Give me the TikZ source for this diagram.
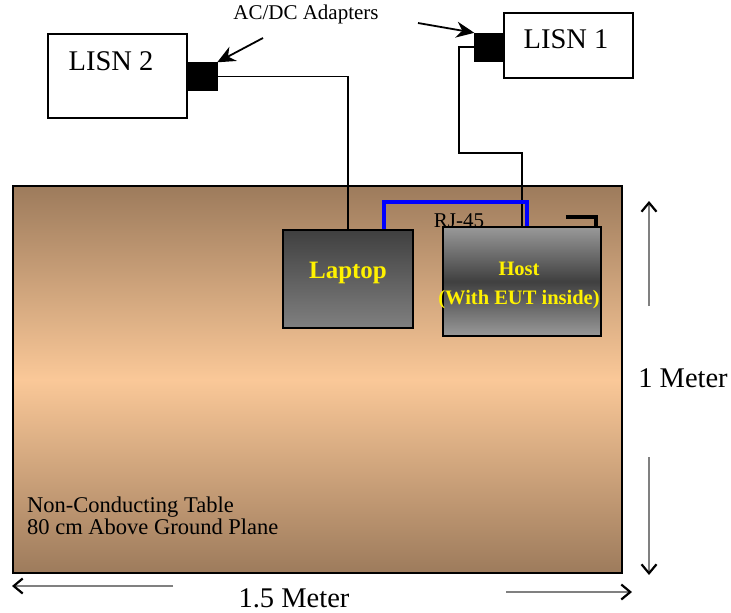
\documentclass[tikz,border=0pt]{standalone}
\usepackage{fontspec}
\setmainfont{Liberation Serif}
\usetikzlibrary{arrows.meta, positioning}
\definecolor{tabletop}{RGB}{157,123,92}
\definecolor{tablemid}{RGB}{250,200,152}
\definecolor{rjblue}{RGB}{0,0,255}
\tikzset{
    lisn/.style={draw, line width=1.3pt, fill=white, inner sep=0pt}, % LISN boxes
    adapter/.style={draw, fill=black, minimum width=30pt, minimum height=28pt, inner sep=0pt}, % black adapter blocks
    tablebox/.style={draw, line width=2pt, top color=tabletop, bottom color=tabletop, middle color=tablemid}, % the table
    wire/.style={draw, line width=1.6pt}, % power cables
    pointer/.style={line width=1.8pt, -{Stealth[length=18pt, width=16pt]}},
    dimarrow/.style={line width=1.4pt, draw=gray, -{Straight Barb[length=9pt, width=15pt, line width=2.2pt, color=black]}},
}
\tikzstyle{bigtext} = [font=\fontsize{28.5}{30}\selectfont]
\tikzstyle{devtext} = [text=yellow, font=\bfseries]
\begin{document}
\begin{tikzpicture}[x=1pt, y=-1pt]
    \useasboundingbox (0,0) rectangle (731,613);

    % table
    \node[tablebox, minimum width=609pt, minimum height=387pt] (table) at (317.5,379.5) {};
    \node[anchor=west, align=left, font=\fontsize{22.5}{22.5}\selectfont, inner sep=0pt] (tabletext) at (27,516)
        {Non-Conducting Table\\80 cm Above Ground Plane};

    % LISNs and adapters
    \node[lisn, minimum width=139pt, minimum height=84pt] (lisn2) at (117.5,76) {};
    \node[bigtext] (lisn2text) at (111,61) {LISN 2};
    \node[adapter] (adapter2) at (202,76.5) {};
    \node[lisn, minimum width=129pt, minimum height=65pt] (lisn1) at (568.5,45.5) {};
    \node[bigtext] (lisn1text) at (566,39) {LISN 1};
    \node[adapter] (adapter1) at (489.5,47) {};

    % devices
    \node[draw, line width=1.5pt, minimum width=130pt, minimum height=98pt,
          top color=black!75, bottom color=black!50] (laptop) at (348,279) {};
    \node[devtext, font=\fontsize{25}{26}\selectfont\bfseries] (laptoptext) at (348,273) {Laptop};
    \node[draw, line width=1.5pt, minimum width=158pt, minimum height=109pt,
          top color=black!40, bottom color=black!40, middle color=black!75] (host) at (522,281.5) {};
    \node[devtext, align=center, font=\fontsize{20.5}{29}\selectfont\bfseries] (hosttext) at (519,285)
        {Host\\(With EUT inside)};
    \node[font=\fontsize{21}{22}\selectfont] (rjlabel) at (459,221) {RJ-45};

    % cables
    \coordinate (bend1) at (459,153);
    \coordinate (rjtop) at (527,202);
    \draw[wire] (adapter2.east) -| (laptop.north);
    \draw[wire] (adapter1.west) -| (bend1) -| (host.north);
    \draw[line width=3.5pt, rjblue] ([xshift=36pt]laptop.north) |- (rjtop) -- (rjtop |- host.north);
    \draw[line width=4pt] ([xshift=-36pt, yshift=9pt]host.north east) -| ([xshift=-6pt]host.north east);

    % adapter label
    \node[font=\fontsize{21}{22}\selectfont] (adlabel) at (306,14) {AC/DC Adapters};
    \coordinate (ptr2) at (263,38);
    \coordinate (ptr1) at (418,23);
    \draw[pointer] (ptr2) -- (adapter2.north east);
    \draw[pointer] (ptr1) -- (adapter1.north west);

    % dimensions
    \node[bigtext] (height) at (683,378) {1 Meter};
    \node[bigtext] (width) at (294,598) {1.5 Meter};
    \coordinate (up1) at (649,306);
    \coordinate (up2) at (649,201);
    \coordinate (dn1) at (649,457);
    \coordinate (dn2) at (649,575);
    \coordinate (lt1) at (173,586);
    \coordinate (lt2) at (12,586);
    \coordinate (rt1) at (506,592);
    \coordinate (rt2) at (632,592);
    \draw[dimarrow] (up1) -- (up2);
    \draw[dimarrow] (dn1) -- (dn2);
    \draw[dimarrow] (lt1) -- (lt2);
    \draw[dimarrow] (rt1) -- (rt2);
\end{tikzpicture}
\end{document}
